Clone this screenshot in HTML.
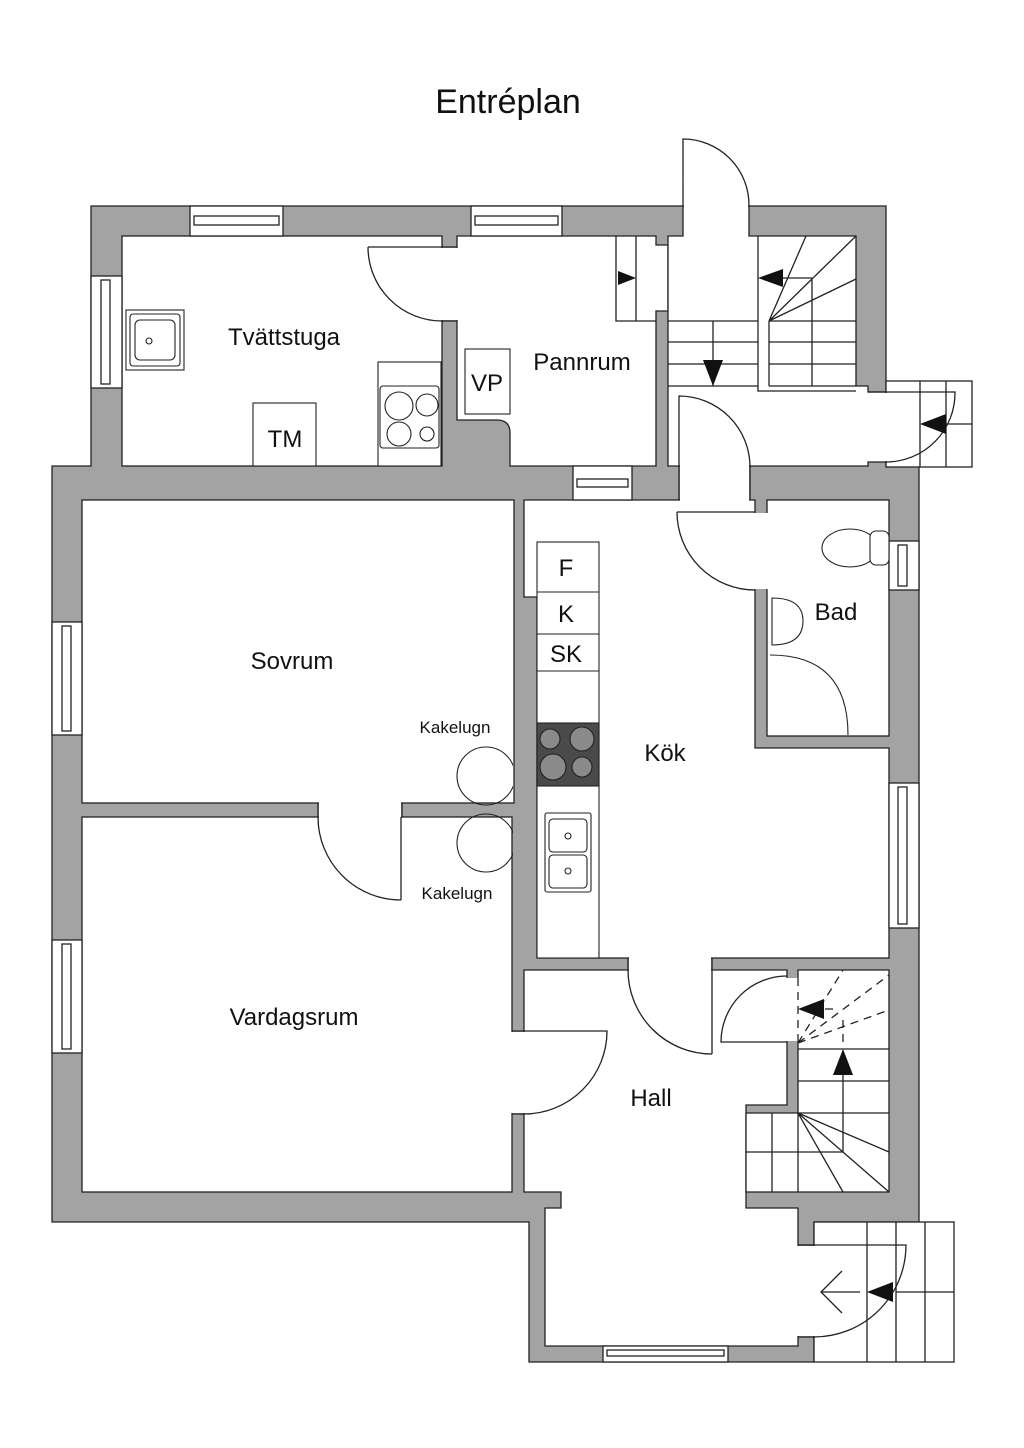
<!DOCTYPE html>
<html><head><meta charset="utf-8"><style>
html,body{margin:0;padding:0;background:#fff;}
svg{display:block}
text{font-family:"Liberation Sans",sans-serif;fill:#111}
</style></head><body>
<svg width="1024" height="1448" viewBox="0 0 1024 1448" xmlns="http://www.w3.org/2000/svg">
<defs><clipPath id="kc"><rect x="400" y="700" width="113" height="200"/></clipPath></defs>
<g stroke="#222" stroke-width="1.3" fill="#fff">
<polygon fill="#a3a3a3" points="91,206 886,206 886,466 919,466 919,1222 814,1222 814,1362 529,1362 529,1222 52,1222 52,466 91,466"/>
<rect x="122" y="236" width="320" height="230"/>
<path d="M457,236 H656 V245 H668 V311 H656 V466 H510 V433 Q510,420 497,420 H457 Z"/>
<path d="M668,236 H683 V206 H749 V236 H856 V386 H868 V392 H886 V462 H868 V466 H668 Z"/>
<rect x="82" y="500" width="432" height="303"/>
<rect x="82" y="817" width="430" height="375"/>
<path d="M524,500 H755 V748 H889 V958 H537 V597 H524 Z"/>
<rect x="767" y="500" width="122" height="236"/>
<path d="M524,970 H787 V1105 H746 V1208 H798 V1346 H545 V1208 H561 V1192 H524 Z"/>
<path d="M798,970 H889 V1192 H746 V1113 H798 Z"/>
<rect x="886" y="381" width="86" height="86"/>
<rect x="814" y="1222" width="140" height="140"/>
</g>
<g fill="#fff" stroke="none">
<rect x="440" y="248" width="19" height="72"/>
<rect x="680" y="464" width="69" height="38"/>
<rect x="753" y="513" width="16" height="76"/>
<rect x="319" y="801" width="82" height="18"/>
<rect x="510" y="1032" width="16" height="81"/>
<rect x="629" y="956" width="82" height="16"/>
<rect x="785" y="978" width="15" height="63"/>
<rect x="796" y="1246" width="20" height="90"/>
<rect x="884" y="393" width="4" height="68"/>
<rect x="684" y="204" width="64" height="4"/>
</g>
<g stroke="#222" stroke-width="1.3" fill="none">
<path d="M442,247 H457 M442,321 H457 M679,466 V500 M750,466 V500 M318,803 V817 M402,803 V817 M512,1031 H524 M512,1114 H524 M628,958 V970 M712,958 V970 M798,1245 H814 M798,1337 H814"/>
<path d="M368,247 H442 M368,247 A74,74 0 0 0 442,321"/>
<path d="M683,206 V139 A66,66 0 0 1 749,206"/>
<path d="M679,467 V396 A71,71 0 0 1 750,467"/>
<path d="M868,392 H955 A69,69 0 0 1 886,462"/>
<path d="M677,512 H755 M677,512 A78,78 0 0 0 755,590"/>
<path d="M401,817 V900 M318,817 A83,83 0 0 0 401,900"/>
<path d="M712,970 V1054 M628,970 A84,84 0 0 0 712,1054"/>
<path d="M524,1031 H607 A83,83 0 0 1 524,1114"/>
<path d="M787,1042 H721 A66,66 0 0 1 787,976"/>
<path d="M798,1245 H906 A92,92 0 0 1 814,1337"/>
<g fill="#fff">
<rect x="190" y="206" width="93" height="30"/><rect x="194" y="216" width="85" height="9"/>
<rect x="471" y="206" width="91" height="30"/><rect x="475" y="216" width="83" height="9"/>
<rect x="91" y="276" width="31" height="112"/><rect x="101" y="280" width="9" height="104"/>
<rect x="52" y="622" width="30" height="113"/><rect x="62" y="626" width="9" height="105"/>
<rect x="52" y="940" width="30" height="113"/><rect x="62" y="944" width="9" height="105"/>
<rect x="573" y="466" width="59" height="34"/><rect x="577" y="479" width="51" height="8"/>
<rect x="889" y="541" width="30" height="49"/><rect x="898" y="545" width="9" height="41"/>
<rect x="889" y="783" width="30" height="145"/><rect x="898" y="787" width="9" height="137"/>
<rect x="603" y="1346" width="125" height="16"/><rect x="607" y="1350" width="117" height="6"/>
</g>
<path d="M616,236 V321 H656 M636,236 V321"/>
<path d="M758,236 V391 H856 M769,321 V386 M812,278 V386 M783,278 H812 M668,321 H758 M668,342 H758 M668,364 H758 M668,386 H758 M769,321 H856 M769,342 H856 M769,364 H856 M769,386 H856 M713,321 V386 M769,321 L806,236 M769,321 L856,236 M769,321 L856,279"/>
<path d="M920,381 V467 M946,381 V467 M946,424 H972"/>
<path d="M798,1049 H889 M798,1081 H889 M798,1113 H889 M843,1113 V1062 M798,1113 L843,1192 M798,1113 L889,1192 M798,1113 L889,1152 M772,1113 V1192 M798,1113 V1192 M746,1152 H843 M843,1113 V1152"/>
<path stroke-dasharray="8,6" d="M798,978 V1042 M798,1043 L843,970 M798,1043 L889,975 M798,1043 L889,1010 M843,1020 V1043 M825,1009 H835"/>
<path d="M867,1222 V1362 M896,1222 V1362 M925,1222 V1362 M896,1292 H954 M821,1292 H860 M842,1271 L821,1292 L842,1313"/>
</g>
<g fill="#111">
<polygon points="618,271 618,285 636,278"/>
<polygon points="758,278 783,269 783,287"/>
<polygon points="703,360 723,360 713,386"/>
<polygon points="920,424 946,414 946,434"/>
<polygon points="833,1075 853,1075 843,1049"/>
<polygon points="798,1009 824,999 824,1019"/>
<polygon points="867,1292 893,1282 893,1302"/>
</g>
<g stroke="#222" stroke-width="1.1" fill="#fff">
<rect x="126" y="310" width="58" height="60"/><rect x="130" y="314" width="50" height="52" rx="3"/><rect x="135" y="320" width="40" height="40" rx="5"/>
<circle cx="149" cy="341" r="3"/>
<rect x="253" y="403" width="63" height="63"/>
<rect x="378" y="362" width="63" height="104"/><rect x="380" y="386" width="59" height="62" rx="3"/>
<circle cx="399" cy="406" r="14"/><circle cx="427" cy="405" r="11"/><circle cx="399" cy="434" r="12"/><circle cx="427" cy="434" r="7"/>
<rect x="465" y="349" width="45" height="65"/>
<rect x="537" y="542" width="62" height="416"/>
<path d="M537,592 H599 M537,634 H599 M537,671 H599" fill="none"/>
<rect x="537" y="723" width="62" height="63" fill="#4a4a4a"/>
<g fill="#8a8a8a" stroke="#222"><circle cx="550" cy="739" r="10"/><circle cx="582" cy="739" r="12"/><circle cx="553" cy="767" r="13"/><circle cx="582" cy="767" r="10"/></g>
<rect x="545" y="813" width="46" height="79" rx="2"/><rect x="549" y="819" width="38" height="33" rx="4"/><rect x="549" y="855" width="38" height="33" rx="4"/>
<circle cx="568" cy="836" r="3"/><circle cx="568" cy="871" r="3"/>
<ellipse cx="850" cy="548" rx="28" ry="19"/><rect x="870" y="531" width="19" height="34" rx="6"/>
<path d="M772,598 Q803,598 803,621 Q803,645 772,645 Z"/>
<path d="M770,655 Q848,655 848,735" fill="none"/>
<g clip-path="url(#kc)" fill="none">
<circle cx="486" cy="776" r="29"/>
<circle cx="486" cy="843" r="29"/>
</g>
</g>
<text x="508" y="113" font-size="34" text-anchor="middle">Entréplan</text>
<g font-size="24" text-anchor="middle">
<text x="284" y="345">Tvättstuga</text>
<text x="582" y="370">Pannrum</text>
<text x="487" y="391">VP</text>
<text x="285" y="447">TM</text>
<text x="292" y="669">Sovrum</text>
<text x="294" y="1025">Vardagsrum</text>
<text x="665" y="761">Kök</text>
<text x="836" y="620">Bad</text>
<text x="651" y="1106">Hall</text>
<text x="566" y="576">F</text>
<text x="566" y="622">K</text>
<text x="566" y="662">SK</text>
</g>
<g font-size="17" text-anchor="middle">
<text x="455" y="733">Kakelugn</text>
<text x="457" y="899">Kakelugn</text>
</g>
</svg>
</body></html>
